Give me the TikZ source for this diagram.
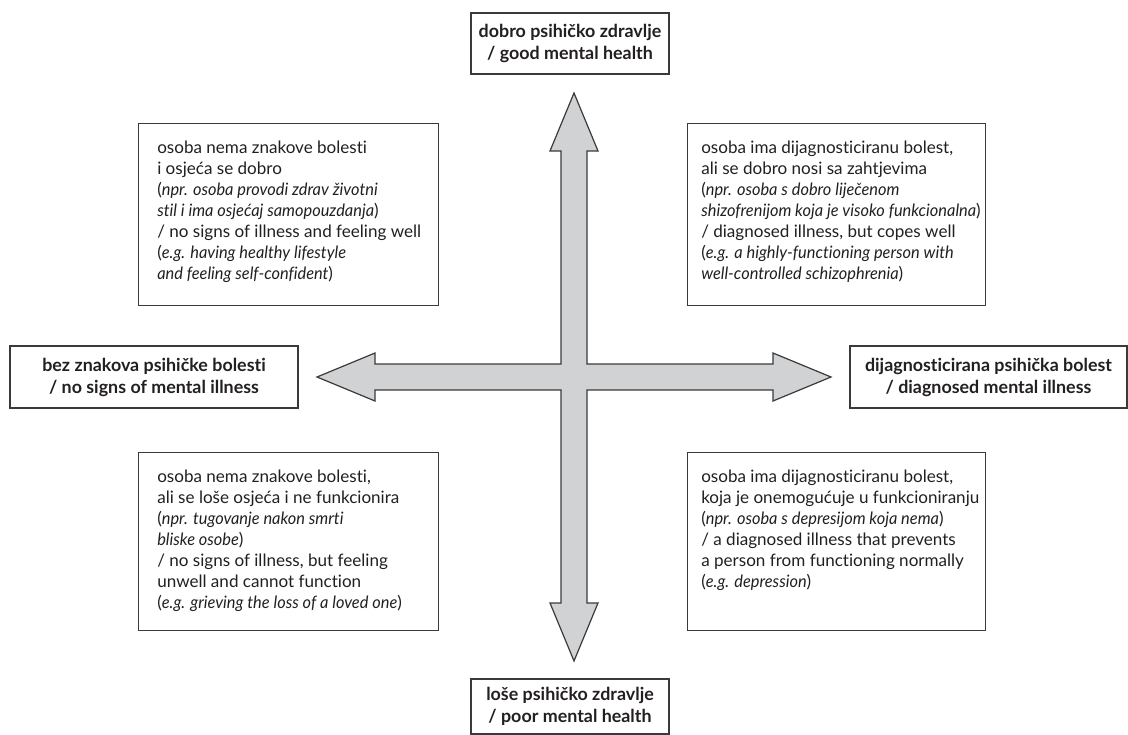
\documentclass[tikz,border=0pt]{standalone}
\usepackage{fontspec}
\setmainfont{Lato}[Ligatures=NoCommon, ItalicFeatures={FakeStretch=0.96}]
\usetikzlibrary{positioning}
\definecolor{boxline}{RGB}{58,58,58}
\definecolor{crossfill}{RGB}{209,210,212}
\definecolor{inkgray}{RGB}{35,31,32}

\tikzset{
  headbox/.style={draw=boxline, line width=0.9pt, align=center, text=inkgray,
    font=\fontsize{13.4}{16.5}\selectfont\bfseries, inner sep=0pt},
  quadbox/.style={draw=boxline, line width=0.9pt, anchor=north west,
    minimum width=225pt, minimum height=136.5pt, inner sep=0pt},
  quadtext/.style={anchor=north west, align=left, text=inkgray, inner sep=0pt,
    font=\fontsize{12.8}{15.75}\selectfont},
  crossarrow/.style={draw=boxline, fill=crossfill, line width=0.9pt, line join=miter}
}

\begin{document}
\begin{tikzpicture}[x=0.75pt, y=-0.75pt]
\useasboundingbox (0,0) rectangle (1128,735);
% axis labels
\node[headbox, minimum width=148.5pt, minimum height=45.75pt] (good) at (570,43.5)
  {dobro psihičko zdravlje\\/ good mental health};
\node[headbox, minimum width=148.5pt, minimum height=41.25pt] (poor) at (570,706.5)
  {loše psihičko zdravlje\\/ poor mental health};
\node[headbox, minimum width=216pt, minimum height=46.5pt] (nosigns) at (154,377)
  {bez znakova psihičke bolesti\\/ no signs of mental illness};
\node[headbox, minimum width=207.75pt, minimum height=46.5pt] (diagnosed) at (988.5,377)
  {dijagnosticirana psihička bolest\\/ diagnosed mental illness};
% cross of arrows
\coordinate (c) at (574,377);
\begin{scope}[shift={(c)}]
\draw[crossarrow] (13,-13) -- (13,-226) -- (24,-226) -- (0,-284) -- (-24,-226) -- (-13,-226)
  -- (-13,-13) -- (-199,-13) -- (-199,-24) -- (-257,0) -- (-199,24) -- (-199,13)
  -- (-13,13) -- (-13,226) -- (-24,226) -- (0,284) -- (24,226) -- (13,226)
  -- (13,13) -- (199,13) -- (199,24) -- (257,0) -- (199,-24) -- (199,-13) -- cycle;
\end{scope}
% quadrants
\node[quadbox] (wellnoill) at (138,123) {};
\node[quadtext, below right=13pt and 14.25pt of wellnoill.north west] (wellnoilltext)
  {osoba nema znakove bolesti\\
   i osjeća se dobro\\
   (\textit{npr. osoba provodi zdrav životni}\\
   \textit{stil i ima osjećaj samopouzdanja})\\
   / no signs of illness and feeling well\\
   (\textit{e.g. having healthy lifestyle}\\
   \textit{and feeling self-confident})};
\node[quadbox, minimum width=223.5pt] (copes) at (687,123) {};
\node[quadtext, below right=13pt and 10.5pt of copes.north west] (copestext)
  {osoba ima dijagnosticiranu bolest,\\
   ali se dobro nosi sa zahtjevima\\
   (\textit{npr. osoba s dobro liječenom}\\
   \textit{shizofrenijom koja je visoko funkcionalna})\\
   / diagnosed illness, but copes well\\
   (\textit{e.g. a highly-functioning person with}\\
   \textit{well-controlled schizophrenia})};
\node[quadbox, minimum height=133.5pt] (unwell) at (138,452) {};
\node[quadtext, below right=13pt and 14.25pt of unwell.north west] (unwelltext)
  {osoba nema znakove bolesti,\\
   ali se loše osjeća i ne funkcionira\\
   (\textit{npr. tugovanje nakon smrti}\\
   \textit{bliske osobe})\\
   / no signs of illness, but feeling\\
   unwell and cannot function\\
   (\textit{e.g. grieving the loss of a loved one})};
\node[quadbox, minimum width=223.5pt, minimum height=133.5pt] (prevents) at (687,452) {};
\node[quadtext, below right=13pt and 10.5pt of prevents.north west] (preventstext)
  {osoba ima dijagnosticiranu bolest,\\
   koja je onemogućuje u funkcioniranju\\
   (\textit{npr. osoba s depresijom koja nema})\\
   / a diagnosed illness that prevents\\
   a person from functioning normally\\
   (\textit{e.g. depression})};
\end{tikzpicture}
\end{document}
